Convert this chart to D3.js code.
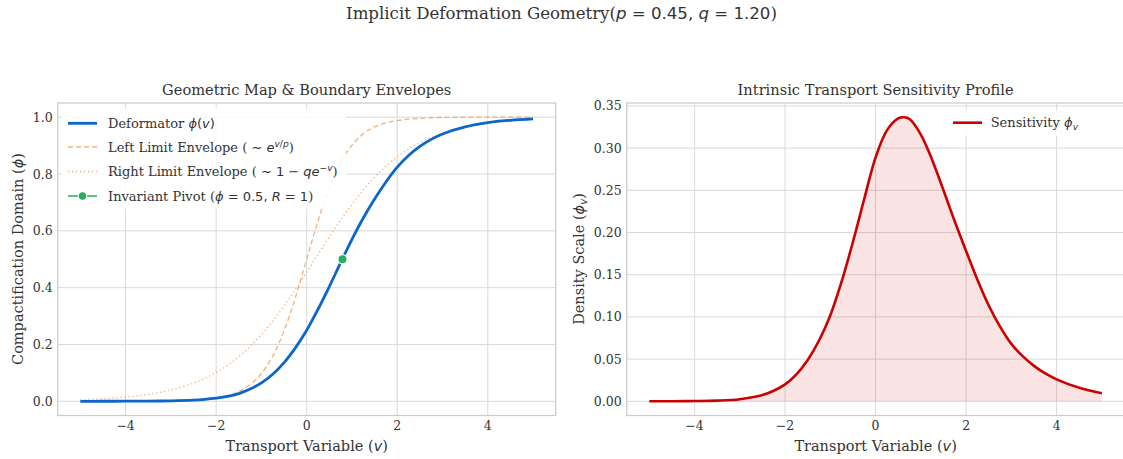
<html lang="en">
<head>
  <meta charset="utf-8">
  <title>Implicit Deformation Geometry</title>
  <script src="https://cdn.jsdelivr.net/npm/d3@7"></script>
  <style>
    body { margin: 0; background: white; }
  </style>
</head>
<body>
<div id="chart"></div>
<script>

// transport variable grid (shared by the left panel curves)
var vGrid = [-5, -4.5, -4, -3.5, -3, -2.5, -2.25, -2, -1.75, -1.5, -1.25, -1, -0.75, -0.5, -0.25,
             0, 0.25, 0.5, 0.75, 1, 1.25, 1.5, 1.75, 2, 2.25, 2.5, 2.75, 3, 3.5, 4, 4.5, 5];

// deformator phi(v)
var phiValues = [0.000, 0.0001, 0.0003, 0.0007, 0.0016, 0.0040, 0.0068, 0.011, 0.017, 0.027, 0.043, 0.065, 0.095, 0.136, 0.188,
                 0.250, 0.324, 0.404, 0.488, 0.570, 0.645, 0.712, 0.772, 0.824, 0.865, 0.897, 0.922, 0.941, 0.966, 0.981, 0.989, 0.994];

// left limit envelope (dashed)
var leftEnvelope = [0.0000, 0.0000, 0.0001, 0.0004, 0.0013, 0.0038, 0.0067, 0.0116, 0.0200, 0.0345, 0.0585, 0.0978, 0.159, 0.248, 0.365,
                    0.500, 0.635, 0.752, 0.841, 0.902, 0.942, 0.966, 0.980, 0.988, 0.993, 0.996, 0.998, 0.999, 1.000, 1.000, 1.000, 1.000];

// right limit envelope (dotted)
var rightEnvelope = [0.0056, 0.0092, 0.0150, 0.0245, 0.0398, 0.0640, 0.0807, 0.1013, 0.1265, 0.1568, 0.1928, 0.2347, 0.2825, 0.3357, 0.3936,
                     0.4545, 0.5169, 0.5787, 0.6382, 0.6937, 0.7442, 0.7888, 0.8275, 0.8603, 0.8877, 0.9103, 0.9288, 0.9436, 0.9651, 0.9785, 0.9868, 0.9920];

// invariant pivot
var pivotV = [0.79];
var pivotPhi = [0.5];

// sensitivity profile phi_v (right panel)
var sensV = [-5, -4.5, -4, -3.5, -3, -2.5, -2.25, -2, -1.75, -1.5, -1.25, -1, -0.75, -0.5, -0.25,
             0, 0.25, 0.5, 0.625, 0.75, 1, 1.25, 1.5, 1.75, 2, 2.25, 2.5, 2.75, 3, 3.25, 3.5, 3.75, 4, 4.5, 5];
var sensValues = [0.0000, 0.0001, 0.0003, 0.0008, 0.0025, 0.0075, 0.0125, 0.0200, 0.0320, 0.0490, 0.0720, 0.1020, 0.1420, 0.1890, 0.2400,
                  0.2890, 0.3210, 0.3352, 0.3366, 0.3345, 0.3160, 0.2860, 0.2500, 0.2130, 0.1780, 0.1440, 0.1135, 0.0885, 0.0680,
                  0.0535, 0.0420, 0.0330, 0.0260, 0.0160, 0.0095];

// tick labels
var vTicks = [-4, -2, 0, 2, 4];
var phiTicks = [0, 0.2, 0.4, 0.6, 0.8, 1.0];
var sensTicks = [0, 0.05, 0.10, 0.15, 0.20, 0.25, 0.30, 0.35];

var W = 1123, H = 459;
var serif = "'DejaVu Serif', serif";
var sans = "'DejaVu Sans', sans-serif";
var textColor = "#333333";
var gridColor = "#d9d9d9";
var spineColor = "#cccccc";
var smooth = d3.curveCatmullRom.alpha(0.5);

var svg = d3.select("#chart").append("svg")
  .attr("width", W)
  .attr("height", H)
  .style("background", "white");

// text made of pieces: kind flags m = math font, i = italic, ^ = superscript, _ = subscript
function richText(parent, parts, fs) {
  var t = parent.append("text")
    .attr("font-size", fs)
    .attr("fill", textColor)
    .style("font-family", serif);
  var shift = 0;
  parts.forEach(function(p) {
    var str = p[0], kind = p[1] || "";
    var ts = t.append("tspan").text(str);
    var target = kind.indexOf("^") >= 0 ? -0.38 * fs : (kind.indexOf("_") >= 0 ? 0.22 * fs : 0);
    if (target !== shift) { ts.attr("dy", target - shift); shift = target; }
    if (kind.indexOf("m") >= 0) ts.style("font-family", sans);
    if (kind.indexOf("i") >= 0) ts.style("font-style", "italic");
    if (kind.indexOf("^") >= 0 || kind.indexOf("_") >= 0) ts.attr("font-size", fs * 0.7);
  });
  return t;
}

function fmtTick(d, digits) {
  return d3.format("." + digits + "f")(d).replace("-", "\u2212");
}

// draws an axes box with grid and tick labels, returns scales
function makeAxes(x0, x1, y0, y1, yDomain, yTicks, yDigits) {
  var x = d3.scaleLinear().domain([-5.5, 5.5]).range([x0, x1]);
  var y = d3.scaleLinear().domain(yDomain).range([y1, y0]);
  var g = svg.append("g");

  g.selectAll(".vgrid").data(vTicks).enter().append("line")
    .attr("x1", function(d) { return x(d); }).attr("x2", function(d) { return x(d); })
    .attr("y1", y0).attr("y2", y1)
    .attr("stroke", gridColor).attr("stroke-width", 1);
  g.selectAll(".hgrid").data(yTicks).enter().append("line")
    .attr("x1", x0).attr("x2", x1)
    .attr("y1", function(d) { return y(d); }).attr("y2", function(d) { return y(d); })
    .attr("stroke", gridColor).attr("stroke-width", 1);

  g.append("rect")
    .attr("x", x0).attr("y", y0).attr("width", x1 - x0).attr("height", y1 - y0)
    .attr("fill", "none").attr("stroke", spineColor).attr("stroke-width", 1.25);

  g.selectAll(".xt").data(vTicks).enter().append("text")
    .attr("x", function(d) { return x(d); })
    .attr("y", y1 + 14.8)
    .attr("text-anchor", "middle")
    .attr("font-size", 12.5)
    .attr("fill", textColor)
    .style("font-family", serif)
    .text(function(d) { return fmtTick(d, 0); });
  g.selectAll(".yt").data(yTicks).enter().append("text")
    .attr("x", x0 - 5)
    .attr("y", function(d) { return y(d) + 4.5; })
    .attr("text-anchor", "end")
    .attr("font-size", 12.5)
    .attr("fill", textColor)
    .style("font-family", serif)
    .text(function(d) { return fmtTick(d, yDigits); });

  return {x: x, y: y, g: g};
}

// ---------- left panel ----------
var L = makeAxes(57.7, 555.7, 103, 415.5, [-0.05, 1.05], phiTicks, 1);

var lineL = d3.line()
  .x(function(d) { return L.x(d[0]); })
  .y(function(d) { return L.y(d[1]); })
  .curve(smooth);

var envColor = "#f4a261";
L.g.append("path")
  .datum(vGrid.map(function(v, i) { return [v, leftEnvelope[i]]; }))
  .attr("d", lineL)
  .attr("fill", "none").attr("stroke", envColor).attr("stroke-opacity", 0.85)
  .attr("stroke-width", 1.3).attr("stroke-dasharray", "5,3");
L.g.append("path")
  .datum(vGrid.map(function(v, i) { return [v, rightEnvelope[i]]; }))
  .attr("d", lineL)
  .attr("fill", "none").attr("stroke", envColor).attr("stroke-opacity", 0.85)
  .attr("stroke-width", 1.3).attr("stroke-dasharray", "1.3,2.7");
L.g.append("path")
  .datum(vGrid.map(function(v, i) { return [v, phiValues[i]]; }))
  .attr("d", lineL)
  .attr("fill", "none").attr("stroke", "#0a66c8")
  .attr("stroke-width", 2.8).attr("stroke-linejoin", "round");
L.g.selectAll(".pivot").data(pivotV).enter().append("circle")
  .attr("cx", function(d) { return L.x(d); })
  .attr("cy", function(d, i) { return L.y(pivotPhi[i]); })
  .attr("r", 4.6)
  .attr("fill", "#27ae60").attr("stroke", "white").attr("stroke-width", 1.2);

// left legend
var legL = svg.append("g");
legL.append("rect")
  .attr("x", 62).attr("y", 108).attr("width", 284).attr("height", 101).attr("rx", 3)
  .attr("fill", "white").attr("fill-opacity", 0.85);
var legRows = [
  {y: 123.3, stroke: "#0a66c8", w: 2.8, dash: null, dot: false,
   parts: [["Deformator "], ["\u03d5", "mi"], ["(", "m"], ["v", "mi"], [")", "m"]]},
  {y: 147, stroke: envColor, w: 1.3, dash: "5,3", dot: false,
   parts: [["Left Limit Envelope ("], [" \u223c ", "m"], ["e", "mi"], ["v", "mi^"], ["/", "m^"], ["p", "mi^"], [")"]]},
  {y: 171.5, stroke: envColor, w: 1.3, dash: "1.3,2.7", dot: false,
   parts: [["Right Limit Envelope ("], [" \u223c 1 \u2212 ", "m"], ["qe", "mi"], ["\u2212", "m^"], ["v", "mi^"], [")"]]},
  {y: 196, stroke: "#27ae60", w: 1.5, dash: null, dot: true,
   parts: [["Invariant Pivot ("], ["\u03d5", "mi"], [" = 0.5, ", "m"], ["R", "mi"], [" = 1", "m"], [")"]]}
];
legRows.forEach(function(r) {
  var ln = legL.append("line")
    .attr("x1", 68).attr("x2", 97).attr("y1", r.y).attr("y2", r.y)
    .attr("stroke", r.stroke).attr("stroke-width", r.w);
  if (r.dash) ln.attr("stroke-dasharray", r.dash).attr("stroke-opacity", 0.85);
  if (r.dot) {
    legL.append("circle").attr("cx", 82.5).attr("cy", r.y).attr("r", 4.3)
      .attr("fill", "#27ae60").attr("stroke", "white").attr("stroke-width", 1);
  }
  richText(legL, r.parts, 13).attr("x", 108).attr("y", r.y + 4.6);
});

// left titles
richText(svg, [["Geometric Map & Boundary Envelopes"]], 14.6)
  .attr("x", 306.7).attr("y", 94.5).attr("text-anchor", "middle");
richText(svg, [["Transport Variable ("], ["v", "mi"], [")"]], 14.5)
  .attr("x", 306.7).attr("y", 451).attr("text-anchor", "middle");
richText(svg, [["Compactification Domain ("], ["\u03d5", "mi"], [")"]], 14.5)
  .attr("text-anchor", "middle")
  .attr("transform", "translate(22.5,259) rotate(-90)");

// ---------- right panel ----------
var sensMax = d3.max(sensValues);
var R = makeAxes(626.7, 1124.5, 103, 415.5, [-0.05 * sensMax, 1.05 * sensMax], sensTicks, 2);

var sensData = sensV.map(function(v, i) { return [v, sensValues[i]]; });
R.g.append("path")
  .datum(sensData)
  .attr("d", d3.area()
    .x(function(d) { return R.x(d[0]); })
    .y0(R.y(0))
    .y1(function(d) { return R.y(d[1]); })
    .curve(smooth))
  .attr("fill", "#cc0000").attr("fill-opacity", 0.11);
R.g.append("path")
  .datum(sensData)
  .attr("d", d3.line()
    .x(function(d) { return R.x(d[0]); })
    .y(function(d) { return R.y(d[1]); })
    .curve(smooth))
  .attr("fill", "none").attr("stroke", "#cc0000")
  .attr("stroke-width", 2.6).attr("stroke-linejoin", "round");

// right legend
var legR = svg.append("g");
legR.append("rect")
  .attr("x", 945).attr("y", 110).attr("width", 140).attr("height", 26).attr("rx", 3)
  .attr("fill", "white").attr("fill-opacity", 0.85);
legR.append("line")
  .attr("x1", 953).attr("x2", 982).attr("y1", 122.7).attr("y2", 122.7)
  .attr("stroke", "#cc0000").attr("stroke-width", 2.6);
richText(legR, [["Sensitivity "], ["\u03d5", "mi"], ["v", "mi_"]], 13)
  .attr("x", 990.7).attr("y", 127.3);

richText(svg, [["Intrinsic Transport Sensitivity Profile"]], 14.6)
  .attr("x", 875.6).attr("y", 94.5).attr("text-anchor", "middle");
richText(svg, [["Transport Variable ("], ["v", "mi"], [")"]], 14.5)
  .attr("x", 875.6).attr("y", 451).attr("text-anchor", "middle");
richText(svg, [["Density Scale ("], ["\u03d5", "mi"], ["v", "mi_"], [")"]], 14.5)
  .attr("text-anchor", "middle")
  .attr("transform", "translate(583.5,259) rotate(-90)");

// ---------- figure title ----------
richText(svg, [["Implicit Deformation Geometry("], ["p", "mi"], [" = 0.45,  ", "m"], ["q", "mi"], [" = 1.20", "m"], [")"]], 16.6)
  .attr("x", 561.5).attr("y", 19).attr("text-anchor", "middle");

</script>
</body>
</html>
